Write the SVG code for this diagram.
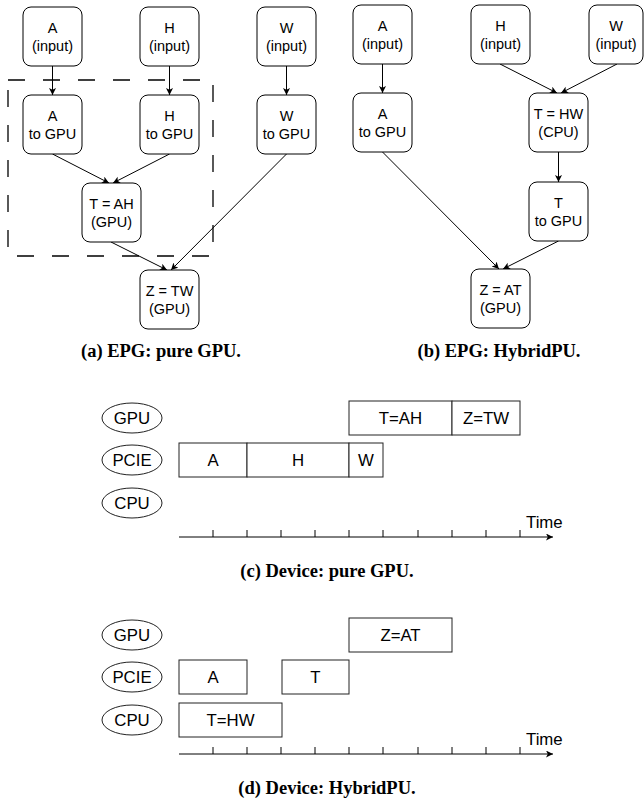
<svg xmlns="http://www.w3.org/2000/svg" width="644" height="803" viewBox="0 0 644 803">
<style>
.nb{fill:#fff;stroke:#000;stroke-width:1}
.nt{font-family:"Liberation Sans",Arial,sans-serif;font-size:14.5px;fill:#000;text-anchor:middle}
.e{fill:none;stroke:#000;stroke-width:1}
.tb{fill:#fff;stroke:#222;stroke-width:1}
.tt{font-family:"Liberation Sans",Arial,sans-serif;font-size:16.8px;fill:#000;text-anchor:middle}
.cap{font-family:"Liberation Serif","Times New Roman",serif;font-size:18.5px;font-weight:bold;fill:#000;text-anchor:middle}
.ax{fill:none;stroke:#000;stroke-width:1}
</style>
<defs>
<marker id="arr" markerWidth="8" markerHeight="8" refX="7" refY="3.5" orient="auto" markerUnits="userSpaceOnUse">
<path d="M0,0 L7,3.5 L0,7 L1.8,3.5 z" fill="#000"/>
</marker>
</defs>

<rect x="8" y="80" width="205" height="176" fill="none" stroke="#000" stroke-width="1.3" stroke-dasharray="17 18"/>

<g id="connectors">
<line class="e" x1="52.5" y1="66" x2="52.5" y2="95" marker-end="url(#arr)"/>
<line class="e" x1="169.5" y1="66" x2="169.5" y2="95" marker-end="url(#arr)"/>
<line class="e" x1="286.5" y1="66" x2="286.5" y2="95" marker-end="url(#arr)"/>
<line class="e" x1="52.5" y1="154" x2="109" y2="183" marker-end="url(#arr)"/>
<line class="e" x1="169.5" y1="154" x2="113" y2="183" marker-end="url(#arr)"/>
<line class="e" x1="111" y1="242" x2="167" y2="270" marker-end="url(#arr)"/>
<line class="e" x1="286.5" y1="154" x2="171" y2="270" marker-end="url(#arr)"/>
<line class="e" x1="382.5" y1="64" x2="382.5" y2="93" marker-end="url(#arr)"/>
<line class="e" x1="500" y1="64" x2="557" y2="93" marker-end="url(#arr)"/>
<line class="e" x1="617" y1="64" x2="561" y2="93" marker-end="url(#arr)"/>
<line class="e" x1="558.5" y1="152" x2="558.5" y2="182" marker-end="url(#arr)"/>
<line class="e" x1="382.5" y1="152" x2="499" y2="269" marker-end="url(#arr)"/>
<line class="e" x1="558.5" y1="241" x2="503" y2="269" marker-end="url(#arr)"/>
</g>

<g id="a_in"><rect class="nb" x="23" y="7" width="59" height="59" rx="8"/><text class="nt" x="52.5" y="33">A</text><text class="nt" x="52.5" y="51">(input)</text></g>
<g id="h_in"><rect class="nb" x="140" y="7" width="59" height="59" rx="8"/><text class="nt" x="169.5" y="33">H</text><text class="nt" x="169.5" y="51">(input)</text></g>
<g id="w_in"><rect class="nb" x="257" y="7" width="59" height="59" rx="8"/><text class="nt" x="286.5" y="33">W</text><text class="nt" x="286.5" y="51">(input)</text></g>
<g id="a_gpu"><rect class="nb" x="23" y="95" width="59" height="59" rx="8"/><text class="nt" x="52.5" y="121">A</text><text class="nt" x="52.5" y="139">to GPU</text></g>
<g id="h_gpu"><rect class="nb" x="140" y="95" width="59" height="59" rx="8"/><text class="nt" x="169.5" y="121">H</text><text class="nt" x="169.5" y="139">to GPU</text></g>
<g id="w_gpu"><rect class="nb" x="257" y="95" width="59" height="59" rx="8"/><text class="nt" x="286.5" y="121">W</text><text class="nt" x="286.5" y="139">to GPU</text></g>
<g id="t_ah"><rect class="nb" x="82" y="183" width="59" height="59" rx="8"/><text class="nt" x="111.5" y="209">T = AH</text><text class="nt" x="111.5" y="227">(GPU)</text></g>
<g id="z_tw"><rect class="nb" x="140" y="270" width="59" height="59" rx="8"/><text class="nt" x="169.5" y="296">Z = TW</text><text class="nt" x="169.5" y="314">(GPU)</text></g>

<g id="a_in2"><rect class="nb" x="353" y="5" width="59" height="59" rx="8"/><text class="nt" x="382.5" y="31">A</text><text class="nt" x="382.5" y="49">(input)</text></g>
<g id="h_in2"><rect class="nb" x="471" y="5" width="59" height="59" rx="8"/><text class="nt" x="500.5" y="31">H</text><text class="nt" x="500.5" y="49">(input)</text></g>
<g id="w_in2"><rect class="nb" x="589" y="5" width="54" height="59" rx="8"/><text class="nt" x="616" y="31">W</text><text class="nt" x="616" y="49">(input)</text></g>
<g id="a_gpu2"><rect class="nb" x="353" y="93" width="59" height="59" rx="8"/><text class="nt" x="382.5" y="119">A</text><text class="nt" x="382.5" y="137">to GPU</text></g>
<g id="t_hw"><rect class="nb" x="529" y="93" width="59" height="59" rx="8"/><text class="nt" x="558.5" y="119">T = HW</text><text class="nt" x="558.5" y="137">(CPU)</text></g>
<g id="t_gpu"><rect class="nb" x="529" y="182" width="59" height="59" rx="8"/><text class="nt" x="558.5" y="208">T</text><text class="nt" x="558.5" y="226">to GPU</text></g>
<g id="z_at"><rect class="nb" x="471" y="269" width="59" height="59" rx="8"/><text class="nt" x="500.5" y="295">Z = AT</text><text class="nt" x="500.5" y="313">(GPU)</text></g>

<text class="cap" x="161" y="357">(a) EPG: pure GPU.</text>
<text class="cap" x="499" y="357">(b) EPG: HybridPU.</text>

<g id="timeline_c">
<ellipse class="tb" cx="132" cy="418" rx="30" ry="15"/><text class="tt" x="132" y="424">GPU</text>
<ellipse class="tb" cx="132" cy="460" rx="30" ry="15"/><text class="tt" x="132" y="466">PCIE</text>
<ellipse class="tb" cx="132" cy="503" rx="30" ry="15"/><text class="tt" x="132" y="509">CPU</text>
<rect class="tb" x="349" y="401" width="103" height="34"/><text class="tt" x="400.5" y="424">T=AH</text>
<rect class="tb" x="452" y="401" width="68" height="34"/><text class="tt" x="486" y="424">Z=TW</text>
<rect class="tb" x="179" y="443" width="68" height="34"/><text class="tt" x="213" y="466">A</text>
<rect class="tb" x="247" y="443" width="102" height="34"/><text class="tt" x="298" y="466">H</text>
<rect class="tb" x="349" y="443" width="34" height="34"/><text class="tt" x="366" y="466">W</text>
<line class="ax" x1="179" y1="537" x2="553" y2="537" marker-end="url(#arr)"/>
<path class="ax" d="M213,530V537M247,530V537M281,530V537M315,530V537M349,530V537M383,530V537M418,530V537M452,530V537M486,530V537M520,530V537"/>
<text class="tt" x="526" y="528" style="text-anchor:start">Time</text>
</g>
<text class="cap" x="327" y="577">(c) Device: pure GPU.</text>

<g id="timeline_d">
<ellipse class="tb" cx="132" cy="635" rx="30" ry="15"/><text class="tt" x="132" y="641">GPU</text>
<ellipse class="tb" cx="132" cy="677" rx="30" ry="15"/><text class="tt" x="132" y="683">PCIE</text>
<ellipse class="tb" cx="132" cy="720" rx="30" ry="15"/><text class="tt" x="132" y="726">CPU</text>
<rect class="tb" x="349" y="618" width="103" height="34"/><text class="tt" x="400.5" y="641">Z=AT</text>
<rect class="tb" x="179" y="660" width="68" height="34"/><text class="tt" x="213" y="683">A</text>
<rect class="tb" x="282" y="660" width="67" height="34"/><text class="tt" x="315.5" y="683">T</text>
<rect class="tb" x="179" y="703" width="103" height="34"/><text class="tt" x="230.5" y="726">T=HW</text>
<line class="ax" x1="179" y1="754" x2="553" y2="754" marker-end="url(#arr)"/>
<path class="ax" d="M213,747V754M247,747V754M281,747V754M315,747V754M349,747V754M383,747V754M418,747V754M452,747V754M486,747V754M520,747V754"/>
<text class="tt" x="526" y="745" style="text-anchor:start">Time</text>
</g>
<text class="cap" x="327" y="794">(d) Device: HybridPU.</text>
</svg>
